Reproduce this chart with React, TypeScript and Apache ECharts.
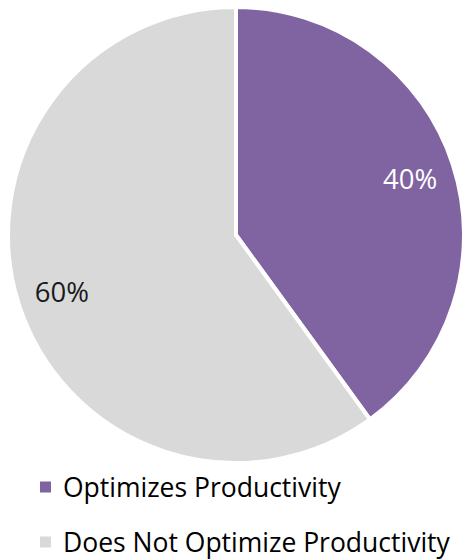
import React, { useEffect, useRef } from "react";
import * as echarts from "echarts";

const categories = ["Optimizes Productivity", "Does Not Optimize Productivity"];
const values = [40, 60];
const colors = ["#8064A2", "#D9D9D9"];
const labelColors = ["#FFFFFF", "#1A1A1A"];

export default function App() {
  const ref = useRef<HTMLDivElement>(null);
  useEffect(() => {
    const chart = echarts.init(ref.current!, null, { renderer: "svg" });
    const data = categories.map((name, i) => ({
      name,
      value: values[i],
      itemStyle: { color: colors[i] },
    }));
    const labelData = categories.map((name, i) => ({
      name,
      value: values[i],
      itemStyle: { color: "rgba(0,0,0,0)" },
      label: { color: labelColors[i] },
    }));
    chart.setOption({
      animation: false,
      legend: {
        orient: "vertical",
        left: 38,
        top: 473,
        height: 86,
        padding: 0,
        icon: "rect",
        itemWidth: 13,
        itemHeight: 13,
        itemGap: 27,
        data: categories,
        textStyle: {
          fontFamily: "Open Sans",
          fontSize: 26.5,
          lineHeight: 28,
          color: "#000000",
          padding: [0, 0, 0, 6],
        },
      },
      series: [
        {
          type: "pie",
          center: [236, 235],
          radius: 228,
          startAngle: 90,
          clockwise: true,
          silent: true,
          label: { show: false },
          labelLine: { show: false },
          itemStyle: { borderColor: "#FFFFFF", borderWidth: 4 },
          data,
        },
        {
          type: "pie",
          center: [236, 235],
          radius: [134, 226],
          startAngle: 90,
          clockwise: true,
          silent: true,
          label: {
            show: true,
            position: "inside",
            formatter: "{c}%",
            fontFamily: "Open Sans",
            fontSize: 27.5,
          },
          labelLine: { show: false },
          data: labelData,
        },
      ],
    });
    return () => chart.dispose();
  }, []);
  return (
    <div
      ref={ref}
      style={{ position: "absolute", left: 0, top: 0, width: 470, height: 560 }}
    />
  );
}
